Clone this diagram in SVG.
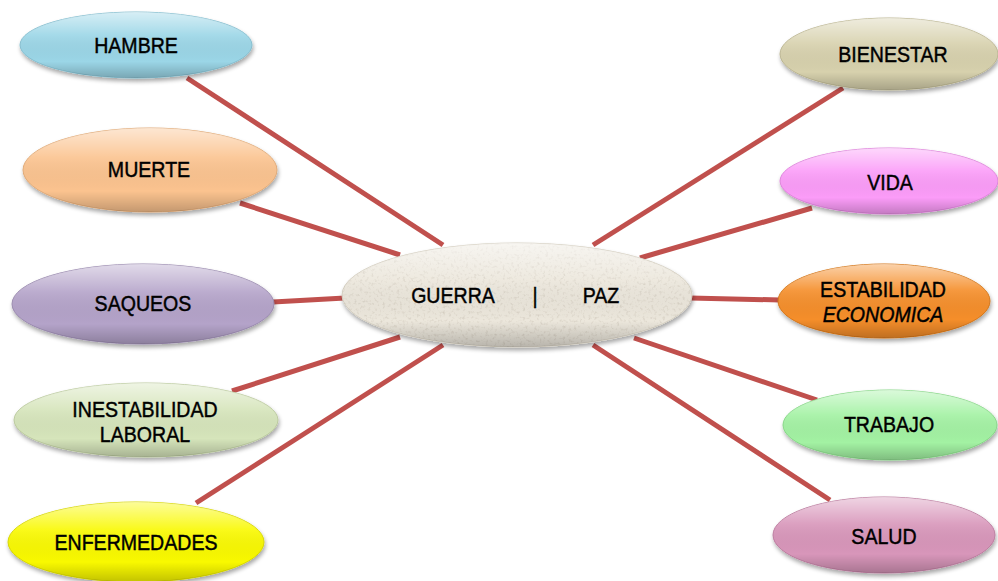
<svg xmlns="http://www.w3.org/2000/svg" width="998" height="581" viewBox="0 0 998 581">
<defs>
<linearGradient id="gloss" x1="0" y1="0" x2="0" y2="1">
<stop offset="0" stop-color="#ffffff" stop-opacity="0.6"/>
<stop offset="0.35" stop-color="#ffffff" stop-opacity="0.1"/>
<stop offset="0.75" stop-color="#000000" stop-opacity="0"/>
<stop offset="1" stop-color="#000000" stop-opacity="0.22"/>
</linearGradient>
<filter id="sh" x="-10%" y="-20%" width="120%" height="150%">
<feGaussianBlur in="SourceAlpha" stdDeviation="2"/>
<feOffset dx="1" dy="3" result="b"/>
<feComponentTransfer><feFuncA type="linear" slope="0.35"/></feComponentTransfer>
<feMerge><feMergeNode/><feMergeNode in="SourceGraphic"/></feMerge>
</filter>
<filter id="tex" x="0" y="0" width="100%" height="100%">
<feTurbulence type="fractalNoise" baseFrequency="0.35" numOctaves="2" seed="3" result="n"/>
<feColorMatrix in="n" type="matrix" values="0 0 0 0 0.55  0 0 0 0 0.5  0 0 0 0 0.42  0 0 0 -2.2 1.05" result="spots"/>
<feComposite in="spots" in2="SourceGraphic" operator="in"/>
</filter>
</defs>
<style>
.c line{stroke:#c0504d;stroke-width:5;stroke-linecap:butt}
.n ellipse.b{filter:url(#sh);stroke-width:1}
.g{fill:url(#gloss)}
text{font-family:"Liberation Sans",Arial,sans-serif;font-size:22px;fill:#000;stroke:#000;stroke-width:0.45;text-anchor:middle}
</style>
<rect width="998" height="581" fill="#ffffff"/>
<g id="connectors" class="c">
<line x1="187" y1="78" x2="443" y2="245"/>
<line x1="240" y1="203" x2="400" y2="255"/>
<line x1="273" y1="302" x2="345" y2="298"/>
<line x1="232" y1="391" x2="400" y2="337"/>
<line x1="196" y1="503" x2="443" y2="345"/>
<line x1="843" y1="88" x2="593" y2="245"/>
<line x1="812" y1="208" x2="640" y2="258"/>
<line x1="690" y1="298" x2="780" y2="300"/>
<line x1="634" y1="338" x2="817" y2="400"/>
<line x1="593" y1="345" x2="830" y2="500"/>
</g>
<g id="center" class="n">
<ellipse class="b" cx="517" cy="295" rx="175" ry="52" fill="#ece7dc" stroke="#d6d0c2"/>
<ellipse cx="517" cy="295" rx="175" ry="52" fill="#fff" filter="url(#tex)" opacity="0.6"/>
<ellipse class="g" cx="517" cy="295" rx="175" ry="52"/>
<text transform="translate(453 303) scale(0.89 1)">GUERRA</text>
<text transform="translate(535 303) scale(0.89 1)">|</text>
<text transform="translate(601 303) scale(0.89 1)">PAZ</text>
</g>
<g id="hambre" class="n">
<ellipse class="b" cx="136" cy="45" rx="116" ry="33" fill="#9bd6e7" stroke="#86bfd0"/>
<ellipse class="g" cx="136" cy="45" rx="116" ry="33"/>
<text transform="translate(136 53) scale(0.89 1)">HAMBRE</text>
</g>
<g id="muerte" class="n">
<ellipse class="b" cx="150" cy="170" rx="127" ry="42" fill="#fbc38f" stroke="#e2ab78"/>
<ellipse class="g" cx="150" cy="170" rx="127" ry="42"/>
<text transform="translate(149 177) scale(0.89 1)">MUERTE</text>
</g>
<g id="saqueos" class="n">
<ellipse class="b" cx="143" cy="304" rx="131" ry="40" fill="#b4a3c9" stroke="#9b8bb0"/>
<ellipse class="g" cx="143" cy="304" rx="131" ry="40"/>
<text transform="translate(143 311) scale(0.89 1)">SAQUEOS</text>
</g>
<g id="inestabilidad" class="n">
<ellipse class="b" cx="146" cy="420" rx="132" ry="37" fill="#d6e5bb" stroke="#bccb9f"/>
<ellipse class="g" cx="146" cy="420" rx="132" ry="37"/>
<text transform="translate(145 417) scale(0.89 1)">INESTABILIDAD</text>
<text transform="translate(145 442) scale(0.89 1)">LABORAL</text>
</g>
<g id="enfermedades" class="n">
<ellipse class="b" cx="136" cy="542" rx="128" ry="40" fill="#f9f900" stroke="#d8d800"/>
<ellipse class="g" cx="136" cy="542" rx="128" ry="40"/>
<text transform="translate(136 550) scale(0.89 1)">ENFERMEDADES</text>
</g>
<g id="bienestar" class="n">
<ellipse class="b" cx="889" cy="54" rx="109" ry="36" fill="#d7d1ad" stroke="#bdb793"/>
<ellipse class="g" cx="889" cy="54" rx="109" ry="36"/>
<text transform="translate(893 62) scale(0.89 1)">BIENESTAR</text>
</g>
<g id="vida" class="n">
<ellipse class="b" cx="889" cy="181" rx="109" ry="33" fill="#fb9cf8" stroke="#df84dc"/>
<ellipse class="g" cx="889" cy="181" rx="109" ry="33"/>
<text transform="translate(890 190) scale(0.89 1)">VIDA</text>
</g>
<g id="estabilidad" class="n">
<ellipse class="b" cx="884" cy="301" rx="106" ry="37" fill="#f58e2c" stroke="#d57618"/>
<ellipse class="g" cx="884" cy="301" rx="106" ry="37"/>
<text transform="translate(883 297) scale(0.89 1)">ESTABILIDAD</text>
<text transform="translate(883 322) scale(0.89 1)" font-style="italic">ECONOMICA</text>
</g>
<g id="trabajo" class="n">
<ellipse class="b" cx="890" cy="425" rx="107" ry="35" fill="#a3f2a3" stroke="#88d888"/>
<ellipse class="g" cx="890" cy="425" rx="107" ry="35"/>
<text transform="translate(889 432) scale(0.89 1)">TRABAJO</text>
</g>
<g id="salud" class="n">
<ellipse class="b" cx="884" cy="535" rx="111" ry="38" fill="#d896ba" stroke="#bd7da0"/>
<ellipse class="g" cx="884" cy="535" rx="111" ry="38"/>
<text transform="translate(884 544) scale(0.89 1)">SALUD</text>
</g>
</svg>
